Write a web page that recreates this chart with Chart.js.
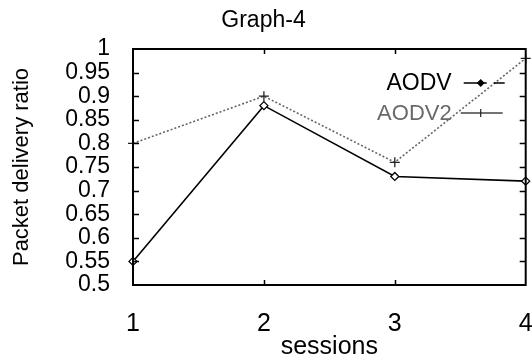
<!DOCTYPE html>
<html>
<head>
<meta charset="utf-8">
<script src="https://cdn.jsdelivr.net/npm/chart.js@4/dist/chart.umd.min.js"></script>
<style>
  html, body { margin: 0; padding: 0; background: #ffffff; }
  #wrap { width: 532px; height: 360px; }
</style>
</head>
<body>
<div id="wrap"><canvas id="c" width="532" height="360"></canvas></div>
<script>
// ---- data ----
const sessions = ['1', '2', '3', '4'];
const aodv  = [0.55, 0.88, 0.73, 0.72];
const aodv2 = [0.80, 0.90, 0.76, 0.98];
const yTickLabels = ['0.5', '0.55', '0.6', '0.65', '0.7', '0.75', '0.8', '0.85', '0.9', '0.95', '1'];
const seriesNames = ['AODV', 'AODV2'];
const chartTitle = 'Graph-4';
const xTitle = 'sessions';
const yTitle = 'Packet delivery ratio';

const FONT = "'Liberation Sans', Arial, Helvetica, sans-serif";

// frame + inward tick marks
const framePlugin = {
  id: 'frame',
  afterDraw(chart) {
    const { ctx, chartArea: a, scales } = chart;
    ctx.save();
    ctx.strokeStyle = '#000';
    ctx.lineWidth = 2;
    ctx.strokeRect(a.left, a.top, a.right - a.left, a.bottom - a.top);
    ctx.lineWidth = 1.5;
    ctx.beginPath();
    const y = scales.y;
    y.ticks.forEach((t, i) => {
      if (i === 0 || i === y.ticks.length - 1) return;
      const py = Math.round(y.getPixelForValue(t.value)) + 0.5;
      ctx.moveTo(a.left, py); ctx.lineTo(a.left + 6, py);
      ctx.moveTo(a.right, py); ctx.lineTo(a.right - 6, py);
    });
    const x = scales.x;
    x.ticks.forEach((t, i) => {
      if (i === 0 || i === x.ticks.length - 1) return;
      const px = Math.round(x.getPixelForValue(t.value)) + 0.5;
      ctx.moveTo(px, a.bottom); ctx.lineTo(px, a.bottom - 5);
      ctx.moveTo(px, a.top); ctx.lineTo(px, a.top + 5);
    });
    ctx.stroke();
    ctx.restore();
  }
};

// legend inside plot, text left of line sample
const insideLegend = {
  id: 'insideLegend',
  afterDraw(chart) {
    const { ctx, chartArea: a } = chart;
    const rows = [
      { cy: 83, textColor: '#000', size: 23 },
      { cy: 113, textColor: '#6a6a6a', size: 22 }
    ];
    ctx.save();
    chart.data.datasets.forEach((ds, i) => {
      const r = rows[i];
      const textRight = a.right - 74;
      const x0 = a.right - 62, x1 = a.right - 21;
      ctx.font = r.size + 'px ' + FONT;
      ctx.fillStyle = r.textColor;
      ctx.textAlign = 'right';
      ctx.textBaseline = 'middle';
      ctx.fillText(ds.label, textRight, r.cy + 1);
      ctx.strokeStyle = i === 0 ? '#000' : '#444';
      ctx.lineWidth = 1.6;
      ctx.beginPath();
      if (i === 0) {
        ctx.moveTo(x0, r.cy); ctx.lineTo(x0 + 23, r.cy);
        ctx.moveTo(x0 + 30, r.cy); ctx.lineTo(x1, r.cy);
      } else {
        ctx.moveTo(x0 - 3, r.cy); ctx.lineTo(x1 - 2, r.cy);
      }
      ctx.stroke();
      const mx = i === 0 ? x0 + 17 : x0 + 17;
      ctx.beginPath();
      if (i === 0) {
        ctx.fillStyle = '#000';
        ctx.moveTo(mx, r.cy - 4); ctx.lineTo(mx + 4, r.cy); ctx.lineTo(mx, r.cy + 4); ctx.lineTo(mx - 4, r.cy); ctx.closePath();
        ctx.fill();
      } else {
        ctx.strokeStyle = '#222';
        ctx.lineWidth = 1.2;
        ctx.moveTo(mx, r.cy - 4); ctx.lineTo(mx, r.cy + 4);
        ctx.stroke();
      }
    });
    ctx.restore();
  }
};

new Chart(document.getElementById('c'), {
  type: 'line',
  data: {
    labels: sessions,
    datasets: [
      {
        label: seriesNames[0],
        data: aodv,
        borderColor: '#000',
        borderWidth: 1.6,
        backgroundColor: '#fff',
        pointStyle: 'rectRot',
        pointRadius: 4,
        pointBorderColor: '#000',
        pointBorderWidth: 1.3,
        tension: 0,
        fill: false
      },
      {
        label: seriesNames[1],
        data: aodv2,
        borderColor: '#666',
        borderWidth: 1.6,
        borderDash: [2, 2],
        backgroundColor: '#000',
        pointStyle: 'cross',
        pointRadius: 5,
        pointBorderColor: '#222',
        pointBorderWidth: 1.3,
        tension: 0,
        fill: false
      }
    ]
  },
  options: {
    responsive: false,
    devicePixelRatio: 1,
    animation: false,
    layout: { padding: { left: 0, right: 5, top: 0, bottom: 0 } },
    plugins: {
      legend: { display: false },
      tooltip: { enabled: false },
      title: {
        display: true,
        text: chartTitle,
        color: '#000',
        font: { family: FONT, size: 23, weight: 'normal', lineHeight: 1.2 },
        padding: { top: 7, bottom: 14.4 }
      }
    },
    scales: {
      x: {
        type: 'category',
        offset: false,
        grid: { display: false },
        border: { display: false },
        ticks: {
          color: '#000',
          font: { family: FONT, size: 25, lineHeight: 1 },
          padding: 18.5,
          maxRotation: 0,
          autoSkip: false
        },
        title: {
          display: true,
          text: xTitle,
          color: '#000',
          font: { family: FONT, size: 25, lineHeight: 1 },
          padding: { top: 0, bottom: 0 }
        },
        afterFit(s) {
          s.height = 75;
          s.paddingLeft = 0;
          s.paddingRight = 0;
        }
      },
      y: {
        min: 0.5,
        max: 1,
        grid: { display: false },
        border: { display: false },
        ticks: {
          stepSize: 0.05,
          color: '#000',
          font: { family: FONT, size: 23 },
          padding: 15,
          autoSkip: false,
          callback: (v, i) => yTickLabels[i]
        },
        title: {
          display: true,
          text: yTitle,
          color: '#000',
          font: { family: FONT, size: 22, lineHeight: 1 },
          padding: { top: 11, bottom: 0 }
        },
        afterFit(s) {
          s.width = 133;
          s.paddingTop = 0;
          s.paddingBottom = 0;
        }
      }
    }
  },
  plugins: [framePlugin, insideLegend]
});
</script>
</body>
</html>
